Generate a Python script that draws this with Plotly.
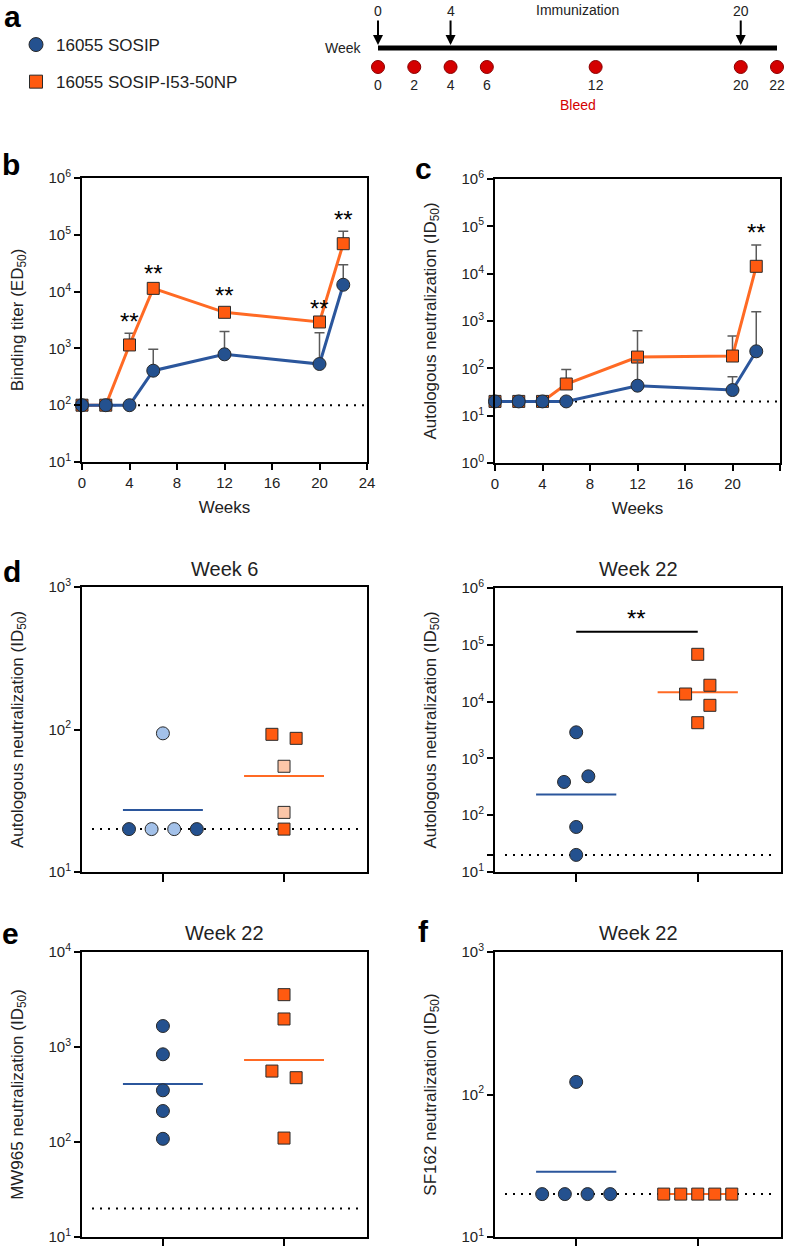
import math
import plotly.graph_objects as go

# ------------------------------------------------------------------ data
groups = ["16055 SOSIP", "16055 SOSIP-I53-50NP"]

immunization_weeks = [0, 4, 20]
bleed_weeks = [0, 2, 4, 6, 12, 20, 22]

weeks = [0, 2, 4, 6, 12, 20, 22]
axis_weeks = [0, 4, 8, 12, 16, 20, 24]

# b: binding titer (ED50), geometric mean and upper error value
bind_sosip = [100, 100, 100, 405, 787, 531, 13200]
bind_sosip_upper = [None, None, None, 964, 1990, 1890, 29800]
bind_np = [100, 100, 1150, 11400, 4320, 2920, 69700]
bind_np_upper = [None, None, 1845, 12600, 5200, 3150, 116000]
bind_sig_weeks = [4, 6, 12, 20, 22]
bind_lod = 100

# c: autologous neutralization (ID50)
neut_sosip = [20, 20, 20, 20, 43, 34.8, 229]
neut_sosip_upper = [None, None, None, None, 150, 66.5, 1570]
neut_np = [20, 20, 20, 46.7, 173, 182, 14300]
neut_np_upper = [None, None, None, 95, 624, 482, 40400]
neut_sig_weeks = [22]
neut_lod = 20

# d: week 6 autologous neutralization, individual animals
w6_sosip = [20, 20, 20, 20, 94]
w6_sosip_light = [False, True, True, False, True]
w6_np = [92.5, 86.7, 55.2, 26.2, 20]
w6_np_light = [False, False, True, True, False]

# d: week 22 autologous neutralization
w22_sosip = [2880, 385, 484, 62, 20]
w22_np = [68000, 13600, 19400, 8600, 4250]

# e: week 22 MW965 neutralization
mw965_sosip = [1663, 838, 350, 212, 108]
mw965_np = [3556, 1972, 558, 475, 110]

# f: week 22 SF162 neutralization
sf162_sosip = [122.5, 20, 20, 20, 20]
sf162_np = [20, 20, 20, 20, 20]

# ------------------------------------------------------------------ style
W, H = 788, 1246
FONT = "Liberation Sans, Arial, sans-serif"
BLUE = "#24518f"
BLUE_LIGHT = "#a3c1e9"
ORANGE = "#ff5a10"
ORANGE_LIGHT = "#fcc6a8"
BLUE_LINE = "#2b569c"
ORANGE_LINE = "#ff6a24"
EDGE = "#2a2a2a"
ERR = "#5a5a5a"
RED = "#d40000"
RED_EDGE = "#8a0000"
DOT = "2px,6px"
XR = [-0.668, 1.685]      # categorical panels (groups at 0 and 1)
MEAN_HALF = 0.33

# panel boxes in pixels: (left, right, top, bottom)
BOX = {
    "b": (82, 367, 178, 462),
    "c": (495, 780, 179, 463),
    "d1": (82, 367, 587, 872),
    "d2": (495, 781, 588, 872),
    "e": (82, 367, 952, 1237),
    "f": (495, 781, 952, 1237),
}


def dom(box):
    l, r, t, b = box
    return [l / W, r / W], [1 - b / H, 1 - t / H]


def supten(k):
    return f"10<sup>{k}</sup>"


fig = go.Figure()
ann = []


def log_axis(lo, hi, title, box, extra=None):
    vals = [10 ** k for k in range(lo, hi + 1)]
    txt = [supten(k) for k in range(lo, hi + 1)]
    if extra is not None:
        vals = vals + [extra]
        txt = txt + [" "]
    return dict(
        type="log", range=[lo, hi], domain=dom(box)[1], tickmode="array",
        tickvals=vals, ticktext=txt, showline=True, mirror=True, linecolor="black",
        linewidth=2, ticks="outside", ticklen=6, tickwidth=2, tickcolor="black",
        showgrid=False, zeroline=False, automargin=False,
        tickfont=dict(family=FONT, size=15, color="#222"),
        title=dict(text=title, font=dict(family=FONT, size=17, color="#222"), standoff=21),
    )


def week_axis(box):
    return dict(
        range=[axis_weeks[0], axis_weeks[-1]], domain=dom(box)[0], tickmode="array",
        tickvals=axis_weeks, ticktext=[str(w) for w in axis_weeks], showline=True,
        mirror=True, linecolor="black", linewidth=2, ticks="outside", ticklen=6,
        tickwidth=2, tickcolor="black", showgrid=False, zeroline=False, automargin=False,
        tickfont=dict(family=FONT, size=15, color="#222"),
        title=dict(text="Weeks", font=dict(family=FONT, size=17, color="#222"), standoff=11),
    )


def cat_axis(box):
    return dict(
        range=XR, domain=dom(box)[0], tickmode="array", tickvals=[0, 1],
        showticklabels=False, showline=True, mirror=True, linecolor="black", linewidth=2,
        ticks="outside", ticklen=8, tickwidth=2, tickcolor="black", showgrid=False,
        zeroline=False, automargin=False,
    )


def errs(vals, upper):
    return [None if u is None else u - v for v, u in zip(vals, upper)]


# ------------------------------------------------------------------ b and c
def time_panel(xa, ya, s_vals, s_up, n_vals, n_up, lod, sig_weeks):
    fig.add_trace(go.Scatter(
        x=[axis_weeks[0], axis_weeks[-1]], y=[lod, lod], mode="lines",
        line=dict(color="black", width=2, dash=DOT), xaxis=xa, yaxis=ya,
        showlegend=False, hoverinfo="skip"))
    for vals, up, col, sym, size in [(n_vals, n_up, ORANGE, "square", 12),
                                     (s_vals, s_up, BLUE, "circle", 13)]:
        fig.add_trace(go.Scatter(
            x=weeks, y=vals, mode="lines+markers",
            line=dict(color=ORANGE_LINE if col == ORANGE else BLUE_LINE, width=3),
            marker=dict(symbol=sym, size=size, color=col, line=dict(color=EDGE, width=1)),
            error_y=dict(type="data", symmetric=False, array=errs(vals, up),
                         arrayminus=[0] * len(vals), color=ERR, thickness=1.5, width=5),
            xaxis=xa, yaxis=ya, showlegend=False, cliponaxis=False))
    for w in sig_weeks:
        i = weeks.index(w)
        top = max(v for v in [s_vals[i], n_vals[i], s_up[i], n_up[i]] if v is not None)
        ann.append(dict(x=w, y=math.log10(top), xref=xa, yref=ya, text="**",
                        showarrow=False, xanchor="center", yanchor="middle", yshift=12,
                        font=dict(family=FONT, size=24, color="black")))


time_panel("x", "y", bind_sosip, bind_sosip_upper, bind_np, bind_np_upper, bind_lod,
           bind_sig_weeks)
time_panel("x2", "y2", neut_sosip, neut_sosip_upper, neut_np, neut_np_upper, neut_lod,
           neut_sig_weeks)


# ------------------------------------------------------------------ scatter panels
def swarm_offsets(values, px_dec, px_unit, row_tol=10, dx_min=13, dy_min=14,
                  step=0.1, max_half=0.28, max_gap=0.2):
    n = len(values)
    py = [-math.log10(v) * px_dec for v in values]
    order = sorted(range(n), key=lambda i: (values[i], i))
    rows = []
    for i in order:
        if rows and abs(py[i] - py[rows[-1][0]]) < row_tol:
            rows[-1].append(i)
        else:
            rows.append([i])
    off = [None] * n
    for r in rows:
        if len(r) > 1:
            rs = sorted(r)
            gap = min(max_gap, 2 * max_half / (len(rs) - 1))
            for k, i in enumerate(rs):
                off[i] = (k - (len(rs) - 1) / 2) * gap
    placed = [i for i in range(n) if off[i] is not None]
    for r in rows:
        if len(r) == 1:
            i = r[0]
            for cand in [0, step, -step, 2 * step, -2 * step, 3 * step, -3 * step]:
                ok = all(not (abs(cand - off[j]) * px_unit < dx_min and
                              abs(py[i] - py[j]) < dy_min) for j in placed)
                if ok:
                    off[i] = cand
                    break
            if off[i] is None:
                off[i] = 0
            placed.append(i)
    return off


def geomean(v):
    return 10 ** (sum(math.log10(x) for x in v) / len(v))


def scatter_panel(xa, ya, box, decades, s_vals, n_vals, lod, s_light=None, n_light=None):
    px_dec = (box[3] - box[2]) / decades
    px_unit = (box[1] - box[0]) / (XR[1] - XR[0])
    fig.add_trace(go.Scatter(
        x=[XR[0] + 10 / px_unit, XR[1] - 5 / px_unit], y=[lod, lod], mode="lines",
        line=dict(color="black", width=2, dash=DOT), xaxis=xa, yaxis=ya,
        showlegend=False, hoverinfo="skip"))
    specs = [(0, s_vals, s_light, BLUE, BLUE_LIGHT, BLUE_LINE, "circle", 13),
             (1, n_vals, n_light, ORANGE, ORANGE_LIGHT, ORANGE_LINE, "square", 12)]
    for pos, vals, light, col, lcol, linecol, sym, size in specs:
        gm = geomean(vals)
        fig.add_trace(go.Scatter(
            x=[pos - MEAN_HALF, pos + MEAN_HALF], y=[gm, gm], mode="lines",
            line=dict(color=linecol, width=2), xaxis=xa, yaxis=ya, showlegend=False,
            hoverinfo="skip"))
        off = swarm_offsets(vals, px_dec, px_unit)
        colors = [lcol if (light and light[i]) else col for i in range(len(vals))]
        fig.add_trace(go.Scatter(
            x=[pos + o for o in off], y=vals, mode="markers",
            marker=dict(symbol=sym, size=size, color=colors, line=dict(color=EDGE, width=1)),
            xaxis=xa, yaxis=ya, showlegend=False, cliponaxis=False))
    return px_dec


scatter_panel("x3", "y3", BOX["d1"], 2, w6_sosip, w6_np, neut_lod, w6_sosip_light, w6_np_light)
pxdec_d2 = scatter_panel("x4", "y4", BOX["d2"], 5, w22_sosip, w22_np, neut_lod)
scatter_panel("x5", "y5", BOX["e"], 3, mw965_sosip, mw965_np, neut_lod)
scatter_panel("x6", "y6", BOX["f"], 2, sf162_sosip, sf162_np, neut_lod)

# significance bracket, week 22 autologous
top_d2 = max(w22_sosip + w22_np)
bracket_y = 10 ** (math.log10(top_d2) + 22.6 / pxdec_d2)
fig.add_trace(go.Scatter(x=[0, 1], y=[bracket_y, bracket_y], mode="lines",
                         line=dict(color="black", width=2), xaxis="x4", yaxis="y4",
                         showlegend=False, hoverinfo="skip"))
ann.append(dict(x=0.5, y=math.log10(bracket_y), xref="x4", yref="y4", text="**",
                showarrow=False, xanchor="center", yanchor="middle", yshift=13,
                font=dict(family=FONT, size=24, color="black")))

# ------------------------------------------------------------------ panel a
BAR_Y, BLEED_Y, BLEED_LABEL_Y, BLEED_TEXT_Y, IMM_TEXT_Y = 0, -1, -2, -3, 2.0
fig.add_trace(go.Scatter(x=[min(bleed_weeks), max(bleed_weeks)], y=[BAR_Y, BAR_Y],
                         mode="lines", line=dict(color="black", width=5),
                         xaxis="x7", yaxis="y7", showlegend=False, hoverinfo="skip"))
fig.add_trace(go.Scatter(x=bleed_weeks, y=[BLEED_Y] * len(bleed_weeks), mode="markers",
                         marker=dict(size=13, color=RED, line=dict(color=RED_EDGE, width=1)),
                         xaxis="x7", yaxis="y7", showlegend=False, cliponaxis=False))
fig.add_trace(go.Scatter(x=bleed_weeks, y=[BLEED_LABEL_Y] * len(bleed_weeks), mode="text",
                         text=[str(w) for w in bleed_weeks],
                         textfont=dict(family=FONT, size=14, color="#222"),
                         xaxis="x7", yaxis="y7", showlegend=False, cliponaxis=False))
for w in immunization_weeks:
    ann.append(dict(x=w, y=BAR_Y, xref="x7", yref="y7", text=str(w), showarrow=True,
                    arrowhead=2, arrowsize=1, arrowwidth=2, arrowcolor="black",
                    ax=0, ay=-37, standoff=3, font=dict(family=FONT, size=14, color="#222")))
mid = (min(bleed_weeks) + max(bleed_weeks)) / 2
ann.append(dict(x=min(bleed_weeks), y=BAR_Y, xref="x7", yref="y7", text="Week",
                showarrow=False, xanchor="right", xshift=-14,
                font=dict(family=FONT, size=14, color="#222")))
ann.append(dict(x=mid, y=IMM_TEXT_Y, xref="x7", yref="y7", text="Immunization",
                showarrow=False, xanchor="center",
                font=dict(family=FONT, size=14, color="#222")))
ann.append(dict(x=mid, y=BLEED_TEXT_Y, xref="x7", yref="y7", text="Bleed",
                showarrow=False, xanchor="center",
                font=dict(family=FONT, size=14, color=RED)))

# legend entries
fig.add_trace(go.Scatter(x=[None], y=[None], mode="markers", name=groups[0],
                         marker=dict(symbol="circle", size=14, color=BLUE,
                                     line=dict(color=EDGE, width=1)),
                         xaxis="x7", yaxis="y7", legendgroup="g1", showlegend=True))
fig.add_trace(go.Scatter(x=[None], y=[None], mode="markers", name=groups[1],
                         marker=dict(symbol="square", size=13, color=ORANGE,
                                     line=dict(color=EDGE, width=1)),
                         xaxis="x7", yaxis="y7", legendgroup="g2", showlegend=True))

# panel letters and titles (pixel positions -> paper)
for letter, (px, py) in {"a": (12, 16), "b": (11, 165), "c": (423, 169), "d": (12, 571),
                         "e": (10, 933), "f": (423, 931)}.items():
    ann.append(dict(x=px / W, y=1 - py / H, xref="paper", yref="paper", text=f"<b>{letter}</b>",
                    showarrow=False, xanchor="center", yanchor="middle",
                    font=dict(family=FONT, size=30, color="black")))
for key, title, py in [("d1", "Week 6", 569), ("d2", "Week 22", 569),
                       ("e", "Week 22", 933), ("f", "Week 22", 933)]:
    l, r, t, b = BOX[key]
    ann.append(dict(x=(l + r) / 2 / W, y=1 - py / H, xref="paper", yref="paper", text=title,
                    showarrow=False, xanchor="center", yanchor="middle",
                    font=dict(family=FONT, size=20, color="#222")))

neut_title = "Autologous neutralization (ID<sub>50</sub>)"
layout = dict(
    width=W, height=H, margin=dict(l=0, r=0, t=0, b=0), template="none",
    paper_bgcolor="white", plot_bgcolor="white",
    font=dict(family=FONT, color="#222"),
    xaxis=week_axis(BOX["b"]),
    yaxis=log_axis(1, 6, "Binding titer (ED<sub>50</sub>)", BOX["b"]),
    xaxis2=week_axis(BOX["c"]),
    yaxis2=log_axis(0, 6, neut_title, BOX["c"]),
    xaxis3=cat_axis(BOX["d1"]),
    yaxis3=log_axis(1, 3, neut_title, BOX["d1"]),
    xaxis4=cat_axis(BOX["d2"]),
    yaxis4=log_axis(1, 6, neut_title, BOX["d2"], extra=neut_lod),
    xaxis5=cat_axis(BOX["e"]),
    yaxis5=log_axis(1, 4, "MW965 neutralization (ID<sub>50</sub>)", BOX["e"]),
    xaxis6=cat_axis(BOX["f"]),
    yaxis6=log_axis(1, 3, "SF162 neutralization (ID<sub>50</sub>)", BOX["f"]),
    xaxis7=dict(domain=[378 / W, 777 / W], range=[min(bleed_weeks), max(bleed_weeks)],
                visible=False, fixedrange=True),
    yaxis7=dict(domain=[1 - 115 / H, 1], range=[-3.526, 2.526], visible=False,
                fixedrange=True),
    legend=dict(x=16 / W, y=1 - 27 / H, xanchor="left", yanchor="top",
                font=dict(family=FONT, size=17, color="#222"), tracegroupgap=12,
                bgcolor="rgba(0,0,0,0)", itemsizing="trace"),
    annotations=ann,
    showlegend=True,
)
for i in range(1, 7):
    sx = "" if i == 1 else str(i)
    layout["xaxis" + sx]["anchor"] = "y" + sx
    layout["yaxis" + sx]["anchor"] = "x" + sx
layout["xaxis7"]["anchor"] = "y7"
layout["yaxis7"]["anchor"] = "x7"

fig.update_layout(**layout)
fig.write_html("out.html", config={"displayModeBar": False},
               post_script="document.body.style.margin='0';"
                           "document.body.style.overflow='hidden';")
